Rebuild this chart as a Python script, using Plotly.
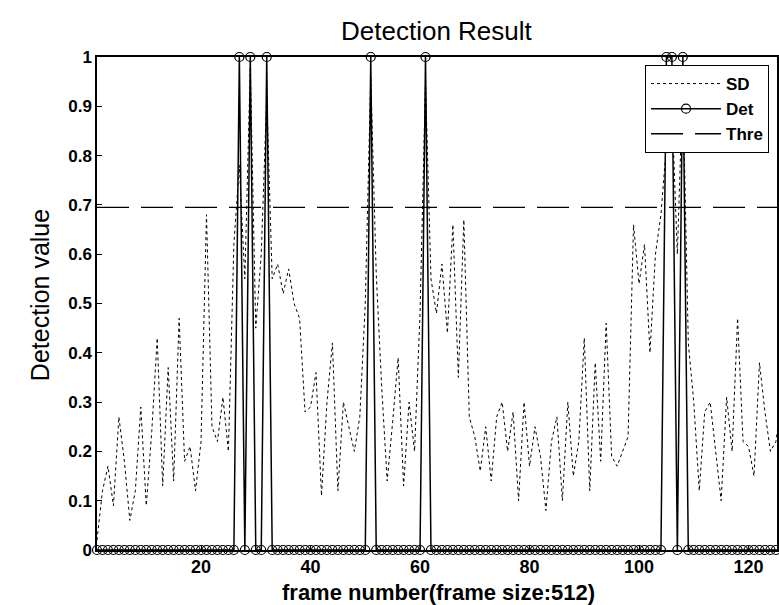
import plotly.graph_objects as go

frames = list(range(1, 129))
sd_values = [
    0.02, 0.12, 0.17, 0.09, 0.27, 0.18, 0.06, 0.12, 0.29, 0.09,
    0.24, 0.43, 0.13, 0.37, 0.14, 0.47, 0.18, 0.21, 0.12, 0.22,
    0.68, 0.25, 0.22, 0.31, 0.20, 0.62, 0.78, 0.55, 0.98, 0.45,
    0.60, 0.92, 0.55, 0.58, 0.52, 0.57, 0.50, 0.47, 0.28, 0.29,
    0.36, 0.11, 0.30, 0.42, 0.12, 0.30, 0.25, 0.20, 0.27, 0.50,
    0.96, 0.56, 0.33, 0.14, 0.26, 0.39, 0.13, 0.30, 0.20, 0.48,
    0.95, 0.55, 0.48, 0.58, 0.44, 0.66, 0.35, 0.67, 0.27, 0.23,
    0.16, 0.25, 0.14, 0.27, 0.30, 0.20, 0.28, 0.10, 0.30, 0.17,
    0.25, 0.19, 0.08, 0.22, 0.27, 0.10, 0.30, 0.15, 0.22, 0.43,
    0.12, 0.38, 0.18, 0.46, 0.19, 0.17, 0.20, 0.23, 0.66, 0.54,
    0.62, 0.40, 0.60, 0.68, 0.82, 0.90, 0.60, 0.95, 0.42, 0.30,
    0.12, 0.28, 0.30, 0.20, 0.10, 0.31, 0.20, 0.47, 0.22, 0.21,
    0.15, 0.38, 0.28, 0.20, 0.22, 0.30, 0.25, 0.20,
]
det_frames_on = [27, 29, 32, 51, 61, 105, 106, 108]
det_values = [1 if f in det_frames_on else 0 for f in frames]
threshold = 0.695
thre_values = [threshold] * len(frames)

x_ticks = [20, 40, 60, 80, 100, 120]
y_ticks = [0, 0.1, 0.2, 0.3, 0.4, 0.5, 0.6, 0.7, 0.8, 0.9, 1]
y_tick_labels = ["0", "0.1", "0.2", "0.3", "0.4", "0.5", "0.6", "0.7", "0.8", "0.9", "1"]

FONT = "Liberation Sans, Arial, sans-serif"

L, R, T, B = 97, 0, 57, 55
W, H = 779, 605
plot_w = W - L - R
plot_h = H - T - B


def px_x(x):
    return (x - L) / plot_w


def px_y(y):
    return (H - B - y) / plot_h


fig = go.Figure()
fig.add_trace(go.Scatter(
    x=frames, y=sd_values, name="SD", mode="lines",
    line=dict(color="black", width=1, dash="3px,3px"),
))
fig.add_trace(go.Scatter(
    x=frames, y=det_values, name="Det", mode="lines+markers",
    line=dict(color="black", width=1.5),
    marker=dict(symbol="circle-open", size=9, color="black", line=dict(width=1.2, color="black")),
    cliponaxis=False,
))
fig.add_trace(go.Scatter(
    x=frames, y=thre_values, name="Thre", mode="lines",
    line=dict(color="black", width=1.3, dash="32px,12px"),
))

fig.update_layout(
    width=W, height=H,
    margin=dict(l=L, r=R, t=T, b=B),
    paper_bgcolor="white", plot_bgcolor="white",
    font=dict(family=FONT, color="black"),
    showlegend=True,
    legend=dict(
        x=px_x(771), y=px_y(65), xanchor="right", yanchor="top",
        bordercolor="black", borderwidth=1, bgcolor="white",
        font=dict(family=FONT, size=17, weight="bold", color="black"),
        tracegroupgap=0, itemwidth=70,
    ),
)
fig.add_annotation(text="Detection Result", x=px_x(438), y=px_y(31),
                   xref="paper", yref="paper", xanchor="center", yanchor="middle",
                   showarrow=False, font=dict(family=FONT, size=26, color="black"))
fig.add_annotation(text="frame number(frame size:512)", x=px_x(440), y=px_y(592),
                   xref="paper", yref="paper", xanchor="center", yanchor="middle",
                   showarrow=False, font=dict(family=FONT, size=22, weight="bold", color="black"))
fig.add_annotation(text="Detection value", x=px_x(40), y=px_y(295),
                   xref="paper", yref="paper", xanchor="center", yanchor="middle",
                   showarrow=False, textangle=-90,
                   font=dict(family=FONT, size=25, color="black"))

fig.update_xaxes(
    range=[1, 125.2], tickvals=x_ticks, ticktext=[str(v) for v in x_ticks],
    ticks="inside", ticklen=5, tickcolor="black", tickwidth=1,
    showline=True, linecolor="black", linewidth=1.5, mirror=True,
    showgrid=False, zeroline=False,
    tickfont=dict(family=FONT, size=18, weight="bold", color="black"),
)
fig.update_yaxes(
    range=[0, 1], tickvals=y_ticks, ticktext=y_tick_labels,
    ticks="inside", ticklen=5, tickcolor="black", tickwidth=1,
    showline=True, linecolor="black", linewidth=1.5, mirror=True,
    showgrid=False, zeroline=False,
    tickfont=dict(family=FONT, size=17, weight="bold", color="black"),
)

fig.write_html("out.html")
